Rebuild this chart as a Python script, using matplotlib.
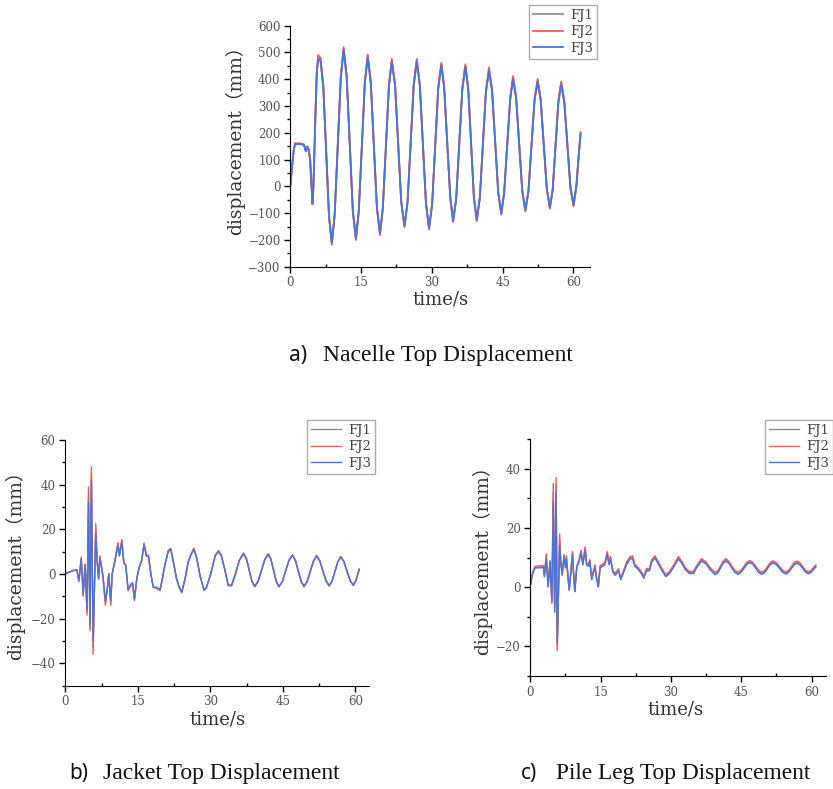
import matplotlib
matplotlib.use('Agg')
import matplotlib.pyplot as plt
from matplotlib.ticker import MultipleLocator

# ---- data ----
# a) nacelle top displacement (mm)
t_nac = [0, 0.3, 0.7, 1.0, 1.5, 2.0, 2.5, 2.9, 3.3, 3.6, 3.9, 4.2, 4.45, 4.7, 4.85, 5.0, 5.3, 5.6, 5.9, 6.4,
         7.0, 7.6, 8.2, 8.8, 9.4, 10.05, 10.7, 11.3, 11.95, 12.6, 13.25, 13.9,
         14.5, 15.15, 15.8, 16.4, 17.05, 17.7, 18.35, 19.0, 19.6, 20.25, 20.9, 21.5,
         22.2, 22.85, 23.5, 24.2, 24.85, 25.5, 26.15, 26.8, 27.45, 28.1, 28.75, 29.4,
         30.05, 30.7, 31.35, 32.0, 32.6, 33.25, 33.9, 34.5, 35.15, 35.8, 36.45, 37.1,
         37.7, 38.3, 38.9, 39.5, 40.15, 40.8, 41.45, 42.1, 42.75, 43.4, 44.05, 44.7,
         45.3, 45.95, 46.6, 47.2, 47.85, 48.5, 49.15, 49.8, 50.45, 51.1, 51.75, 52.4,
         53.05, 53.7, 54.35, 55.0, 55.6, 56.2, 56.8, 57.4, 58.05, 58.7, 59.35, 60.0,
         60.6, 61.0, 61.5]
nac_fj1 = [0, 61, 131, 160, 158, 159, 157, 155, 131, 148, 136, 101, 19, -65, -22, 59, 251, 422, 482, 474,
           371, 130, -110, -214, -106, 150, 408, 514, 408, 158, -92, -196,
           -95, 146, 389, 487, 389, 155, -79, -178, -82, 146, 376, 470,
           379, 161, -57, -149, -57, 161, 379, 471, 377, 156, -65, -158,
           -67, 150, 368, 457, 370, 163, -44, -130, -45, 160, 365, 451,
           365, 162, -41, -127, -44, 155, 354, 438, 358, 168, -22, -102,
           -27, 151, 329, 406, 331, 157, -17, -91, -19, 152, 323, 396,
           324, 157, -10, -80, -12, 152, 316, 386, 317, 157, -3, -71,
           -1, 90, 198]
nac_fj2 = [0, 62, 132, 162, 160, 161, 159, 157, 133, 150, 138, 102, 18, -68, -24, 58, 252, 425, 490, 480,
           375, 130, -112, -218, -108, 150, 412, 520, 412, 158, -94, -200,
           -97, 146, 392, 492, 392, 155, -81, -182, -84, 146, 380, 476,
           382, 161, -59, -152, -59, 161, 382, 476, 380, 156, -67, -161,
           -69, 150, 372, 462, 373, 163, -46, -133, -47, 160, 368, 456,
           368, 162, -43, -130, -46, 155, 357, 444, 361, 168, -24, -105,
           -29, 151, 332, 412, 334, 157, -19, -94, -21, 152, 326, 402,
           327, 157, -12, -83, -14, 152, 319, 392, 320, 157, -5, -74,
           -3, 90, 202]
nac_fj3 = [0, 60, 130, 158, 157, 158, 156, 154, 130, 147, 135, 100, 20, -62, -20, 60, 250, 420, 475, 468,
           368, 130, -108, -210, -105, 150, 405, 508, 405, 158, -90, -193,
           -94, 146, 386, 482, 386, 155, -78, -175, -81, 146, 373, 465,
           376, 161, -56, -146, -56, 161, 376, 466, 374, 156, -64, -155,
           -66, 150, 365, 452, 367, 163, -43, -128, -44, 160, 362, 446,
           362, 162, -40, -124, -43, 155, 351, 432, 355, 168, -21, -100,
           -26, 151, 326, 400, 328, 157, -16, -88, -18, 152, 320, 390,
           321, 157, -9, -78, -11, 152, 313, 380, 314, 157, -2, -68,
           0, 90, 195]

# b) jacket top displacement (mm)
t_jac = [0.0, 0.8, 1.6, 2.4, 2.8, 3.3, 3.7, 4.1, 4.5, 4.8, 5.1, 5.4, 5.75, 6.3, 6.6, 6.9, 7.15, 7.5, 7.8, 8.3,
         8.7, 9.0, 9.4, 9.7, 10.3, 10.9, 11.2, 11.7, 12.1, 12.5, 13.0, 13.6, 13.9, 14.3, 14.8, 15.3, 15.8, 16.3, 16.8, 17.2,
         17.7, 18.2, 18.9, 19.6, 20.1, 20.6, 21.3, 21.8, 22.3, 23.0, 23.6, 24.1, 24.8, 25.4, 25.9, 26.6, 27.2, 27.9, 28.7, 29.2,
         30.1, 31.0, 31.7, 32.3, 33.0, 33.7, 34.4, 35.2, 36.0, 36.9, 37.5, 38.05, 38.6, 39.2, 39.9, 40.6, 41.3, 42.0, 42.55, 43.1,
         43.65, 44.2, 44.9, 45.6, 46.3, 47.0, 47.6, 48.2, 48.8, 49.4, 50.05, 50.7, 51.35, 52.0, 52.65, 53.3, 53.95, 54.6, 55.2, 55.8,
         56.4, 57.0, 57.65, 58.3, 58.95, 59.6, 60.2, 60.8]
jac_fj1 = [0, 0.8, 1.5, 1.8, -3.2, 7, -9.5, 4.2, -17, 35, -24, 45, -33, 20, 5.5, -2.2, 7.5, 3, -1.2, -13,
           -6.5, 0, -13, 0, 6.2, 13.5, 8.2, 15, 5, 4, -7.2, -4.8, -4, -11.5, -2, 3, 6, 13.4, 8, 8.2,
           0, -6, -6.2, -7.2, -2, 4, 10.2, 11.2, 6.1, -2, -6.1, -8.2, -2, 5.1, 8.1, 11.3, 7.1, -1, -7.2, -6.1,
           0, 8.1, 10.2, 8.1, 2, -5.1, -5.2, 0, 6.1, 9.2, 6.6, 1.7, -3.3, -5.6, -3.3, 1.7, 6.5, 8.9, 6.5, 1.6,
           -3.4, -5.7, -3.5, 1.4, 6.2, 8.4, 6.1, 1.4, -3.4, -5.6, -3.4, 1.2, 5.8, 8.1, 5.9, 1.3, -3.1, -5.3, -3.2, 1.2,
           5.5, 7.7, 5.5, 1.2, -3.1, -5.1, -2.6, 2.0]
jac_fj2 = [0, 0.8, 1.5, 1.8, -3.5, 7.5, -10, 4.5, -18.5, 39, -25.5, 48, -36, 22.5, 6, -2.5, 8, 3, -1.5, -14,
           -7, 0, -14, 0, 6.5, 14, 8.5, 15.5, 5, 4, -7.5, -5, -4, -12, -2, 3, 6, 13.8, 8, 8.5,
           0, -6, -6.5, -7.5, -2, 4, 10.5, 11.5, 6.3, -2, -6.3, -8.5, -2, 5.2, 8.3, 11.6, 7.2, -1, -7.5, -6.3,
           0, 8.3, 10.5, 8.2, 2, -5.2, -5.4, 0, 6.2, 9.4, 6.7, 1.7, -3.4, -5.8, -3.4, 1.7, 6.6, 9.1, 6.6, 1.6,
           -3.5, -5.9, -3.6, 1.4, 6.3, 8.6, 6.2, 1.4, -3.5, -5.8, -3.5, 1.2, 5.9, 8.3, 6.0, 1.3, -3.2, -5.5, -3.3, 1.2,
           5.6, 7.9, 5.6, 1.2, -3.2, -5.3, -2.7, 2.1]
jac_fj3 = [0, 0.8, 1.5, 1.8, -3, 6.5, -9, 4, -16, 32, -23, 42, -30, 18, 5, -2, 7, 3, -1, -12,
           -6, 0, -12, 0, 6, 13, 8, 14.5, 5, 4, -7, -4.5, -4, -11, -2, 3, 6, 13, 8, 8,
           0, -6, -6, -7, -2, 4, 10, 11, 6, -2, -6, -8, -2, 5, 8, 11, 7, -1, -7, -6,
           0, 8, 10, 8, 2, -5, -5, 0, 6, 9, 6.5, 1.7, -3.2, -5.5, -3.2, 1.7, 6.4, 8.8, 6.4, 1.6,
           -3.3, -5.6, -3.4, 1.4, 6.1, 8.3, 6.0, 1.4, -3.3, -5.5, -3.3, 1.2, 5.7, 8.0, 5.8, 1.3, -3.0, -5.2, -3.1, 1.2,
           5.4, 7.6, 5.4, 1.2, -3.0, -5.0, -2.5, 2.0]

# c) pile leg top displacement (mm)
t_pile = [0.0, 0.5, 1.0, 2.0, 2.8, 3.0, 3.4, 3.8, 4.2, 4.6, 4.9, 5.2, 5.5, 5.75, 6.25, 6.5, 6.8, 7.2, 7.5, 7.7,
          8.0, 8.3, 8.6, 9.0, 9.2, 9.5, 9.9, 10.4, 10.8, 11.2, 11.7, 12.0, 12.4, 12.7, 13.1, 13.4, 13.8, 14.1, 14.5, 14.9,
          15.4, 15.9, 16.4, 16.8, 17.1, 17.6, 18.1, 18.8, 19.3, 19.8, 20.5, 21.3, 21.8, 22.3, 23.0, 23.7, 24.2, 24.8, 25.4, 25.9,
          26.6, 27.3, 28.0, 28.9, 29.8, 30.6, 31.6, 32.3, 33.0, 33.9, 34.8, 35.6, 36.5, 37.5, 38.3, 39.4, 40.0, 40.55, 41.1, 41.7,
          42.35, 43.0, 43.65, 44.3, 44.9, 45.55, 46.2, 46.8, 47.45, 48.1, 48.75, 49.4, 50.0, 50.6, 51.2, 51.8, 52.45, 53.15, 53.8, 54.5,
          55.1, 55.7, 56.3, 56.9, 57.5, 58.1, 58.7, 59.3, 59.9, 60.4, 60.9]
pile_fj1 = [0.5, 4.7, 6.8, 6.8, 6.9, 3.7, 10.3, 0.1, 8.7, -5, 32, -8, 34.5, -20, 16, 8.5, 4.2, 10.5, 7, 10,
            4.2, -1, 4.2, 11.5, 5.2, -1.5, 6.7, 8.9, 12, 7.8, 13, 7.8, 7.3, 8.9, 2.8, 4.8, 7, 3.3, 0.1, 6.9,
            7.3, 7.9, 11.5, 7.9, 9.9, 5.3, 4.3, 5.8, 2.7, 4.8, 7.9, 9.9, 10, 7.3, 6.3, 4.8, 3.3, 5.9, 5.8, 8.9,
            10.2, 8.1, 6.1, 3.8, 5.1, 7.2, 9.9, 8.4, 6.3, 4.9, 4.9, 7.1, 9.2, 8.1, 6.3, 4.5, 5.1, 6.7, 8.3, 9.2,
            8.3, 6.7, 5.2, 4.6, 5.2, 6.6, 8.0, 8.6, 8.0, 6.6, 5.2, 4.6, 5.2, 6.6, 7.9, 8.5, 7.9, 6.6, 5.3, 4.7,
            5.3, 6.6, 7.9, 8.4, 7.8, 6.6, 5.3, 4.8, 5.3, 6.2, 7.1]
pile_fj2 = [0.5, 5, 7, 7.2, 7.3, 4, 11.3, 0.3, 9, -5.5, 35, -7, 37, -21.5, 18, 9, 4.5, 11, 7.5, 10.5,
            4.5, -1, 4.5, 12, 5.5, -1.5, 7, 9.3, 12.5, 8.2, 13.6, 8.2, 7.6, 9.3, 3.2, 5.2, 7.5, 3.6, 0.3, 7.3,
            7.7, 8.3, 12, 8.3, 10.4, 5.7, 4.6, 6.2, 3, 5.2, 8.3, 10.4, 10.5, 7.7, 6.6, 5.2, 3.6, 6.3, 6.2, 9.3,
            10.6, 8.5, 6.5, 4.2, 5.5, 7.6, 10.3, 8.8, 6.7, 5.3, 5.3, 7.5, 9.6, 8.5, 6.7, 4.9, 5.5, 7.1, 8.7, 9.6,
            8.7, 7.1, 5.6, 5.0, 5.6, 7.0, 8.4, 9.0, 8.4, 7.0, 5.6, 5.0, 5.6, 7.0, 8.3, 8.9, 8.3, 7.0, 5.7, 5.1,
            5.7, 7.0, 8.3, 8.8, 8.2, 7.0, 5.7, 5.2, 5.7, 6.6, 7.5]
pile_fj3 = [0.5, 4.5, 6.5, 6.5, 6.6, 3.5, 9.5, 0, 8.5, -4.5, 29, -8.5, 32, -19, 14, 8, 4, 10, 6.5, 9.5,
            4, -1, 4, 11, 5, -1.5, 6.5, 8.5, 11.5, 7.5, 12.5, 7.5, 7, 8.5, 2.5, 4.5, 6.5, 3, 0, 6.5,
            7, 7.5, 11, 7.5, 9.5, 5, 4, 5.5, 2.5, 4.5, 7.5, 9.5, 9.5, 7, 6, 4.5, 3, 5.5, 5.5, 8.5,
            9.8, 7.8, 5.8, 3.5, 4.8, 6.8, 9.5, 8, 6, 4.6, 4.6, 6.8, 8.8, 7.8, 6, 4.2, 4.8, 6.4, 8.0, 8.8,
            8.0, 6.4, 4.9, 4.3, 4.9, 6.3, 7.7, 8.3, 7.7, 6.3, 4.9, 4.3, 4.9, 6.3, 7.6, 8.2, 7.6, 6.3, 5.0, 4.4,
            5.0, 6.3, 7.6, 8.1, 7.5, 6.3, 5.0, 4.5, 5.0, 5.9, 6.8]

labels = ['FJ1', 'FJ2', 'FJ3']
colors = ['#8c8c8c', '#f05a5a', '#4a74da']

MONO = ['DejaVu Serif', 'Noto Sans CJK SC']
TIMES = ['Liberation Serif', 'DejaVu Serif']
W, H = 833, 789

fig = plt.figure(figsize=(W / 100, H / 100), dpi=100)


def px_axes(left, top, right, bottom):
    return fig.add_axes([left / W, 1 - bottom / H, (right - left) / W, (bottom - top) / H])


def style(ax, xmax, ylim, ymajor, yminor):
    ax.set_xlim(0, xmax)
    ax.set_ylim(*ylim)
    ax.spines['top'].set_visible(False)
    ax.spines['right'].set_visible(False)
    ax.xaxis.set_major_locator(MultipleLocator(15))
    ax.xaxis.set_minor_locator(MultipleLocator(7.5))
    ax.yaxis.set_major_locator(MultipleLocator(ymajor))
    ax.yaxis.set_minor_locator(MultipleLocator(yminor))
    ax.tick_params(axis='both', which='major', direction='out', length=4, width=1,
                   labelsize=8.5, labelcolor='#555555', pad=3)
    ax.tick_params(axis='y', which='minor', direction='out', length=2.5, width=1)
    ax.tick_params(axis='x', which='minor', direction='in', length=2.5, width=1)
    for lab in ax.get_xticklabels() + ax.get_yticklabels():
        lab.set_family(MONO)


def draw(ax, t, series, lw):
    for vals, lab, c in zip(series, labels, colors):
        ax.plot(t, vals, color=c, lw=lw, label=lab)


def legend(ax, x, y):
    leg = ax.legend(loc='upper left', bbox_to_anchor=(x / W, 1 - y / H),
                    bbox_transform=fig.transFigure, borderaxespad=0,
                    prop={'family': MONO, 'size': 9.5}, frameon=True, fancybox=False,
                    edgecolor='#999999', handlelength=2.3, handletextpad=0.5,
                    labelspacing=0.25, borderpad=0.3)
    leg.get_frame().set_linewidth(1.0)
    for text in leg.get_texts():
        text.set_color('#444444')


def labels_at(xl, yl):
    fig.text(xl[0] / W, 1 - xl[1] / H, 'time/s', ha='center', va='center',
             family=MONO, fontsize=13, color='#333333')
    fig.text(yl[0] / W, 1 - yl[1] / H, 'displacement（mm）', ha='center', va='center',
             rotation=90, family=MONO, fontsize=13.5, color='#333333')


def caption(x_tag, x_text, y, tag, text, size=17):
    fig.text(x_tag / W, 1 - y / H, tag, ha='left', va='center',
             family=['Noto Sans', 'DejaVu Sans'], fontsize=15, color='#111111')
    fig.text(x_text / W, 1 - y / H, text, ha='left', va='center',
             family=TIMES, fontsize=size, color='#111111')


# a) nacelle
ax1 = px_axes(290.3, 25.7, 590, 266.7)
draw(ax1, t_nac, [nac_fj1, nac_fj2, nac_fj3], 1.3)
style(ax1, 63.5, (-300, 600), 100, 50)
legend(ax1, 529, 5)
labels_at((440, 300), (235, 136))
caption(289, 323, 355, 'a)', 'Nacelle Top Displacement')

# b) jacket
ax2 = px_axes(65.3, 440, 369.3, 685.5)
draw(ax2, t_jac, [jac_fj1, jac_fj2, jac_fj3], 1.0)
style(ax2, 62.9, (-50, 60), 20, 10)
legend(ax2, 307, 420)
labels_at((217, 720), (15, 561))
caption(69, 103, 773, 'b)', 'Jacket Top Displacement')

# c) pile leg
ax3 = px_axes(530.3, 439, 825.7, 676)
draw(ax3, t_pile, [pile_fj1, pile_fj2, pile_fj3], 1.0)
style(ax3, 63.0, (-30, 50), 20, 10)
legend(ax3, 765, 420)
labels_at((675, 710), (482, 556))
caption(521, 556, 773, 'c)', 'Pile Leg Top Displacement', size=16.8)

fig.savefig('out.png', dpi=100, facecolor='white')
